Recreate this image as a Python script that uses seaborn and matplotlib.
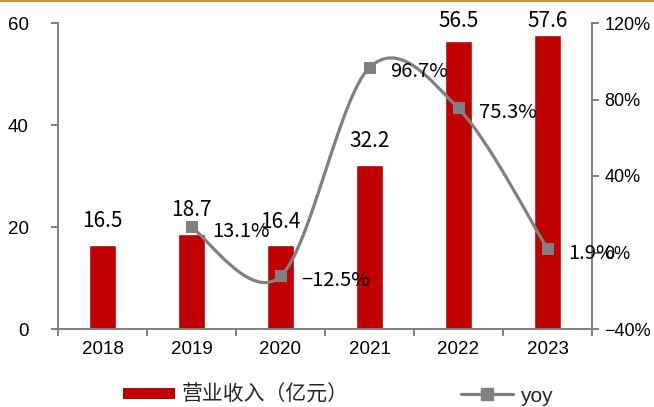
import numpy as np
import pandas as pd
import matplotlib
matplotlib.use("Agg")
import matplotlib.pyplot as plt
from matplotlib.path import Path
from matplotlib.patches import PathPatch, Rectangle
from matplotlib.lines import Line2D
from matplotlib.ticker import FuncFormatter
import seaborn as sns

# Data
years = ["2018", "2019", "2020", "2021", "2022", "2023"]
revenue = [16.5, 18.7, 16.4, 32.2, 56.5, 57.6]          # 营业收入（亿元）
yoy_years = ["2019", "2020", "2021", "2022", "2023"]
yoy = [13.1, -12.5, 96.7, 75.3, 1.9]                     # %
legend_labels = ["营业收入（亿元）", "yoy"]

BAR_RED = "#C00000"
GREY = "#808080"
GOLD = "#C9933A"

sns.set_theme(style="white")
plt.rcParams["font.family"] = ["Liberation Sans", "Noto Sans CJK SC"]
plt.rcParams["axes.unicode_minus"] = True


def pct(v, digits):
    s = f"{abs(v):.{digits}f}%"
    return ("\u2212" + s) if v < 0 else s


fig = plt.figure(figsize=(6.54, 4.07), dpi=100)
W, H = 654, 407
ax = fig.add_axes([58 / W, 1 - 329 / H, (592 - 58) / W, (329 - 23) / H])

df = pd.DataFrame({"year": years, "revenue": revenue})
sns.barplot(data=df, x="year", y="revenue", order=years, color=BAR_RED,
            saturation=1, width=0.31, ax=ax)

ax.set_xlim(-0.5, len(years) - 0.5)
ax.set_ylim(0, 60)
ax.set_yticks([0, 20, 40, 60])
ax.set_xlabel("")
ax.set_ylabel("")
ax.set_xticks(range(len(years)))
ax.set_xticklabels(years)
ax.set_xticks(np.arange(-0.5, len(years), 1.0), minor=True)

for s in ["top", "right"]:
    ax.spines[s].set_visible(False)
for s in ["left", "bottom"]:
    ax.spines[s].set_color(GREY)
    ax.spines[s].set_linewidth(1.4)

ax.tick_params(axis="y", which="major", left=True, length=5, width=1.4,
               color=GREY, pad=16, labelsize=13.5, labelcolor="black")
ax.tick_params(axis="x", which="major", bottom=True, length=0, pad=9,
               labelsize=13.5, labelcolor="black")
ax.tick_params(axis="x", which="minor", bottom=True, length=5, width=1.4,
               color=GREY)

# Revenue value labels above the bars
for i, v in enumerate(revenue):
    ax.text(i, min(v + 4.65, 60.3), f"{v:.1f}", ha="center", va="center",
            fontsize=15, family=["Noto Sans CJK SC", "DejaVu Sans"],
            color="black", clip_on=False, zorder=6)

# Growth rate on the secondary axis
ax2 = ax.twinx()
xpos = [years.index(y) for y in yoy_years]


def smooth_path(xs, ys):
    pts = np.column_stack([xs, ys]).astype(float)
    n = len(pts)
    verts = [pts[0]]
    codes = [Path.MOVETO]
    for i in range(n - 1):
        p0 = pts[i - 1] if i > 0 else pts[i]
        p1 = pts[i]
        p2 = pts[i + 1]
        p3 = pts[i + 2] if i + 2 < n else pts[i + 1]
        verts += [p1 + (p2 - p0) / 6, p2 - (p3 - p1) / 6, p2]
        codes += [Path.CURVE4] * 3
    return Path(verts, codes)


ax2.add_patch(PathPatch(smooth_path(xpos, yoy), fill=False, edgecolor=GREY,
                        linewidth=2.3, capstyle="round", zorder=3))
sns.scatterplot(x=xpos, y=yoy, marker="s", s=85, color=GREY,
                edgecolor=GREY, linewidth=0, ax=ax2, zorder=4, legend=False)

ax2.set_xlim(-0.5, len(years) - 0.5)
ax2.set_ylim(-40, 120)
ax2.set_yticks([-40, 0, 40, 80, 120])
ax2.yaxis.set_major_formatter(FuncFormatter(lambda v, _: pct(v, 0)))
ax2.set_ylabel("")
for s in ["top", "left", "bottom"]:
    ax2.spines[s].set_visible(False)
ax2.spines["right"].set_color(GREY)
ax2.spines["right"].set_linewidth(1.4)
ax2.tick_params(axis="y", right=True, length=5, width=1.4, color=GREY,
                pad=4, labelsize=13, labelcolor="black")
ax2.grid(False)
ax.grid(False)

for x, v in zip(xpos, yoy):
    ax2.annotate(pct(v, 1), (x, v), xytext=(15, -3),
                 textcoords="offset points", ha="left", va="center",
                 fontsize=14.5, family=["Noto Sans CJK SC", "DejaVu Sans"],
                 color="black", zorder=6, annotation_clip=False)

# Legends below the plot
bar_handle = Rectangle((0, 0), 1, 1, facecolor=BAR_RED, edgecolor="none")
line_handle = Line2D([], [], color=GREY, linewidth=2.3, marker="s",
                     markersize=9, markerfacecolor=GREY, markeredgecolor=GREY)
leg_kw = dict(frameon=False, borderpad=0, borderaxespad=0, handlelength=2.5,
              handletextpad=0.33, fontsize=15, loc="center left")
fig.legend([bar_handle], [legend_labels[0]], bbox_to_anchor=(123 / W, 1 - 395 / H),
           handleheight=0.48, **leg_kw)
fig.legend([line_handle], [legend_labels[1]], bbox_to_anchor=(461 / W, 1 - 396 / H),
           **leg_kw)

# Gold rule along the top edge
fig.add_artist(Rectangle((0, 1 - 2 / H), 1, 2 / H, transform=fig.transFigure,
                         facecolor=GOLD, edgecolor="none"))

fig.savefig("out.png", dpi=100)
